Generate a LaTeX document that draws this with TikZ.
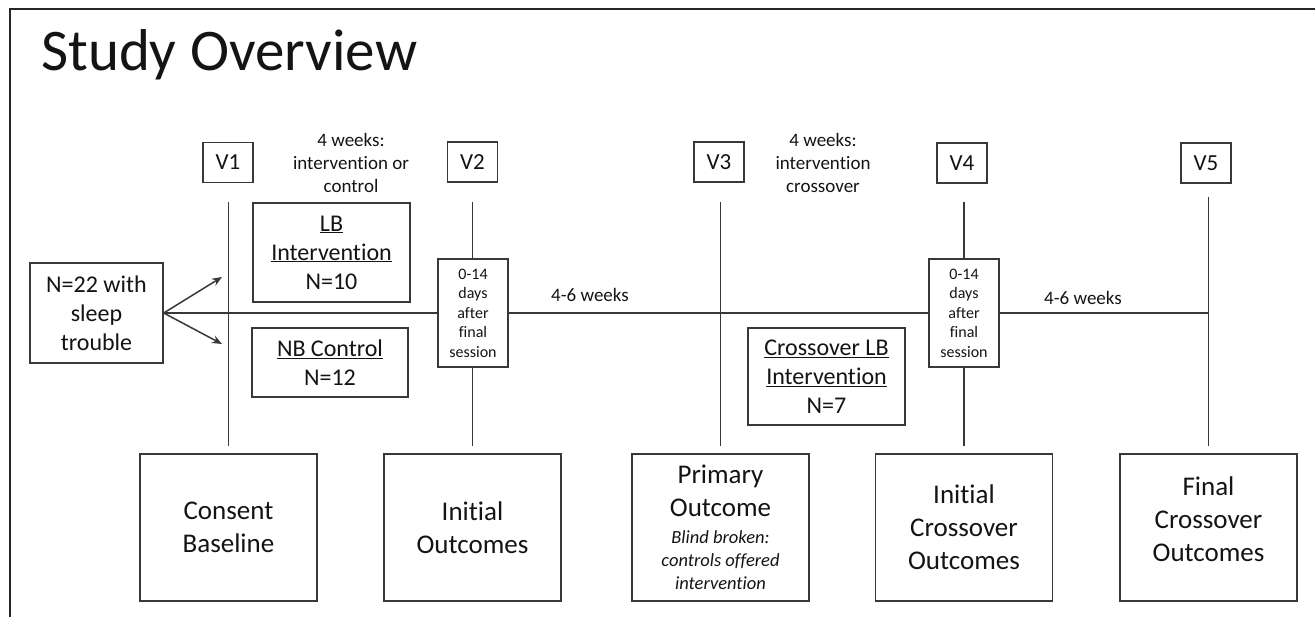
\documentclass[tikz,border=0pt]{standalone}
\usepackage{fontspec}
\setmainfont{Carlito}[Ligatures=NoCommon]
\usetikzlibrary{arrows.meta}
\newcommand\fs[2]{\fontsize{#1}{#2}\selectfont}
\newcommand\itl[1]{{\fs{18.5}{22.5}\itshape #1}}
\begin{document}
\begin{tikzpicture}[x=1pt,y=-1pt,
  box/.style={draw=black!78, line width=1.4pt, fill=white, inner sep=0pt, align=center, text=black!92},
  vbox/.style={box, minimum width=50pt, minimum height=40pt, font=\fs{23}{28}},
  grp/.style={box, font=\fs{24}{29}},
  daybox/.style={box, minimum width=70pt, minimum height=108pt, font=\fs{16}{19.5}},
  outbox/.style={box, minimum width=177pt, minimum height=147pt, font=\fs{27}{33}},
  lbl/.style={inner sep=0pt, align=center, text=black!92, font=\fs{19}{23}},
  ln/.style={draw=black!78, line width=1.5pt},
  arr/.style={ln, -{Stealth[length=10pt,width=8pt]}}]
\useasboundingbox (0,0) rectangle (1315,616);
% frame
\draw[black!85, line width=1.2pt] (10,620) -- (10,9) -- (1320,9);
% title
\node[anchor=base west, inner sep=0pt, font=\fs{59}{70}, text=black!92] (title) at (41,70) {Study Overview};
% visit labels
\node[vbox] (v1) at (228,162.5) {V1};
\node[vbox] (v2) at (472.5,162) {V2};
\node[vbox] (v3) at (719,162) {V3};
\node[vbox] (v4) at (962,163) {V4};
\node[vbox] (v5) at (1206,163) {V5};
% period labels
\node[lbl] (p1) at (351,163) {4 weeks:\\intervention or\\control};
\node[lbl] (p2) at (823,163) {4 weeks:\\intervention\\crossover};
% bottom outcome boxes
\node[outbox] (o1) at (228.5,527.5) {Consent\\Baseline};
\node[outbox] (o2) at (472.5,527.5) {Initial\\Outcomes};
\node[outbox] (o3) at (720.5,527.5) {Primary\\Outcome\\[-6pt]\itl{Blind broken:}\\[-10pt]\itl{controls offered}\\[-10pt]\itl{intervention}};
\node[outbox] (o4) at (964,527.5) {Initial\\Crossover\\Outcomes};
\node[outbox, text depth=16pt] (o5) at (1208.5,527.5) {Final\\Crossover\\Outcomes};
% timeline points
\coordinate (t5) at (1208.5,313);
\coordinate (a1) at (222,277);
\coordinate (a2) at (222,344);
% vertical lines
\draw[ln] (228.5,202) -- (228.5,446);
\draw[ln] (472.5,202) -- (472.5,259);
\draw[ln] (472.5,367) -- (472.5,446);
\draw[ln] (720.5,202) -- (720.5,446);
\draw[ln] (964,202) -- (964,259);
\draw[ln] (964,367) -- (964,446);
\draw[ln] (1208.5,197) -- (1208.5,446);
% timeline
\node[box, minimum width=133pt, minimum height=100pt, font=\fs{24}{29}] (n22) at (96.5,313) {N=22 with\\sleep\\trouble};
\node[daybox] (d2) at (473,313) {0-14\\days\\after\\final\\session};
\node[daybox] (d4) at (964,313) {0-14\\days\\after\\final\\session};
\draw[ln] (n22.east) -- (d2.west);
\draw[ln] (d2.east) -- (d4.west);
\draw[ln] (d4.east) -- (t5);
\draw[arr] (n22.east) -- (a1);
\draw[arr] (n22.east) -- (a2);
% group boxes
\node[grp, minimum width=157pt, minimum height=99pt] (lb) at (331.5,252.5) {\underline{LB}\\\underline{Intervention}\\N=10};
\node[grp, minimum width=156pt, minimum height=69pt] (nb) at (330,362.5) {\underline{NB Control}\\N=12};
\node[grp, minimum width=157pt, minimum height=97pt] (cx) at (826.5,376.5) {\underline{Crossover LB}\\\underline{Intervention}\\N=7};
% labels on timeline
\node[lbl] (w1) at (590,295) {4-6 weeks};
\node[lbl] (w2) at (1083,298) {4-6 weeks};
\end{tikzpicture}
\end{document}
